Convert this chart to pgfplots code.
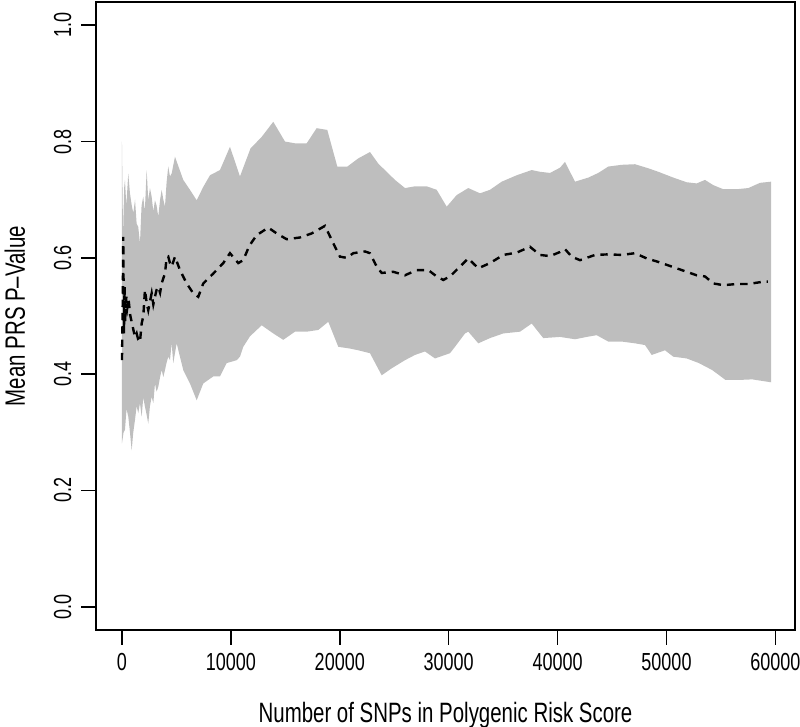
\documentclass[border=0pt]{standalone}
\usepackage{fontspec}
\setmainfont{Liberation Sans}[FakeStretch=0.73]
\usepackage{pgfplots}
\pgfplotsset{compat=1.18}
\usepgfplotslibrary{fillbetween}
\definecolor{bandgray}{RGB}{190,190,190}
\begin{document}
\begin{tikzpicture}
\begin{axis}[
  at={(0pt,0pt)}, anchor=south west,
  scale only axis, width=524.25pt, height=471pt,
  xmin=-2384, xmax=61800, ymin=-0.04, ymax=1.04,
  axis line style={line width=1.2pt},
  every tick/.style={black, line width=1.2pt},
  tick align=outside, major tick length=11pt,
  scaled x ticks=false, scaled y ticks=false,
  xtick={0,10000,20000,30000,40000,50000,60000},
  xticklabels={0,10000,20000,30000,40000,50000,60000},
  ytick={0,0.2,0.4,0.6,0.8,1.0},
  yticklabels={0.0,0.2,0.4,0.6,0.8,1.0},
  xtick pos=bottom, ytick pos=left,
  tick label style={font=\fontsize{18.5}{23}\selectfont},
  xticklabel style={anchor=center, yshift=-13pt},
  yticklabel style={xshift=-14pt, rotate=90, anchor=center},
  label style={font=\fontsize{21}{25}\selectfont},
  xlabel={Number of SNPs in Polygenic Risk Score},
  ylabel={Mean PRS P\textendash Value},
  xlabel style={at={(axis description cs:0.5,-0.1365)}, anchor=center},
  ylabel style={at={(axis description cs:-0.1159,0.5)}, anchor=center},
  clip=true,
]
\addplot[name path=U, draw=none, forget plot] coordinates {
(0,0.800) (100,0.640) (200,0.720) (275,0.734) (400,0.690) (580,0.745) (735,0.711) (900,0.690)
(1040,0.677) (1200,0.700) (1347,0.659) (1497,0.653) (1653,0.625) (1800,0.690) (1956,0.705)
(2100,0.680) (2268,0.751) (2415,0.699) (2570,0.720) (2727,0.705) (2880,0.680) (3030,0.699)
(3180,0.690) (3333,0.671) (3500,0.700) (3646,0.717) (3800,0.700) (3949,0.688) (4100,0.730)
(4252,0.757) (4408,0.740) (4564,0.745) (4867,0.774) (5629,0.734) (6244,0.717) (6860,0.699)
(7466,0.722) (8081,0.742) (9000,0.751) (9918,0.791) (10836,0.740) (11800,0.788) (12829,0.808)
(13894,0.834) (14969,0.800) (15887,0.797) (16961,0.797) (17879,0.823) (18853,0.820) (19772,0.757)
(20700,0.757) (21700,0.771) (22774,0.782) (23536,0.762) (25070,0.734) (25989,0.720) (26906,0.723)
(27981,0.723) (28899,0.717) (29818,0.688) (30736,0.708) (31801,0.720) (32876,0.711) (33794,0.717)
(34868,0.731) (36245,0.742) (37623,0.751) (38385,0.748) (39303,0.746) (40221,0.755) (40681,0.765)
(41599,0.731) (42821,0.738) (43738,0.746) (44657,0.757) (45886,0.760) (47108,0.761) (48330,0.754)
(49248,0.748) (50627,0.738) (51853,0.730) (52771,0.728) (53537,0.734) (54300,0.725) (55218,0.718)
(56448,0.718) (57513,0.720) (58587,0.729) (59600,0.731)
};
\addplot[name path=L, draw=none, forget plot] coordinates {
(0,0.281) (150,0.300) (275,0.304) (420,0.340) (580,0.327) (735,0.300) (890,0.269) (1040,0.300)
(1194,0.321) (1347,0.345) (1497,0.333) (1653,0.350) (1809,0.327) (1956,0.360) (2112,0.344)
(2268,0.330) (2415,0.315) (2570,0.345) (2727,0.361) (2880,0.350) (3030,0.384) (3180,0.370)
(3333,0.378) (3500,0.395) (3646,0.407) (3800,0.395) (3949,0.407) (4100,0.420) (4252,0.430)
(4408,0.424) (4564,0.453) (4711,0.419) (5023,0.453) (5629,0.407) (6244,0.384) (6860,0.355)
(7466,0.384) (8384,0.396) (9000,0.396) (9615,0.419) (10533,0.424) (10836,0.430) (11139,0.447)
(11754,0.465) (12829,0.484) (13894,0.470) (14811,0.459) (15887,0.473) (16961,0.473) (18027,0.476)
(18945,0.490) (19863,0.447) (20937,0.444) (21700,0.441) (22774,0.436) (23848,0.398) (24766,0.410)
(25989,0.424) (26906,0.433) (27824,0.439) (28743,0.427) (29661,0.433) (30120,0.436) (30580,0.447)
(31497,0.470) (31801,0.473) (32719,0.453) (33794,0.462) (35015,0.470) (36548,0.473) (37623,0.487)
(38688,0.462) (40221,0.464) (41599,0.460) (42670,0.464) (43590,0.467) (44657,0.456) (45886,0.456)
(47108,0.453) (48028,0.450) (48641,0.433) (49864,0.441) (50627,0.430) (51853,0.427) (52976,0.419)
(54199,0.407) (55420,0.390) (56650,0.390) (57869,0.391) (59600,0.386)
};
\addplot[bandgray, draw=none] fill between[of=U and L];
\addplot[black, line width=1.8pt, dash pattern=on 5.5pt off 4.5pt] coordinates {
(0,0.424) (60,0.500) (120,0.636) (180,0.470) (240,0.550) (300,0.490) (400,0.533) (500,0.516)
(600,0.530) (750,0.502) (890,0.490) (1050,0.476) (1200,0.464) (1350,0.470) (1500,0.459)
(1650,0.455) (1809,0.487) (1960,0.500) (2112,0.545) (2270,0.522) (2415,0.510) (2570,0.525)
(2727,0.539) (2880,0.520) (3030,0.533) (3180,0.545) (3333,0.550) (3500,0.540) (3646,0.556)
(3800,0.565) (3949,0.573) (4100,0.600) (4252,0.602) (4408,0.591) (4564,0.585) (4867,0.602)
(5326,0.579) (5941,0.556) (6547,0.539) (7006,0.533) (7466,0.556) (8384,0.573) (9302,0.591)
(9918,0.608) (10680,0.591) (11139,0.596) (11700,0.621) (12369,0.639) (13435,0.652) (14206,0.642)
(15125,0.632) (16346,0.635) (17420,0.642) (18641,0.655) (19560,0.619) (20019,0.602) (20634,0.600)
(21240,0.608) (22315,0.611) (22774,0.608) (23390,0.585) (23848,0.574) (24914,0.576) (25989,0.570)
(27062,0.579) (28127,0.579) (28899,0.568) (29504,0.562) (30120,0.568) (31039,0.585) (31801,0.599)
(32719,0.582) (33794,0.591) (35015,0.605) (36245,0.609) (37466,0.619) (38385,0.605) (39303,0.603)
(40221,0.610) (40681,0.615) (41294,0.602) (42058,0.596) (43437,0.605) (44657,0.606) (45886,0.605)
(47108,0.608) (48182,0.599) (49248,0.593) (50627,0.584) (51853,0.576) (52771,0.570) (53537,0.568)
(54300,0.556) (55218,0.553) (56448,0.555) (57513,0.555) (58890,0.559) (59300,0.559)
};
\end{axis}
\pgfresetboundingbox
\useasboundingbox (-72pt,-72.75pt) rectangle (528pt,472.5pt);
\end{tikzpicture}
\end{document}
